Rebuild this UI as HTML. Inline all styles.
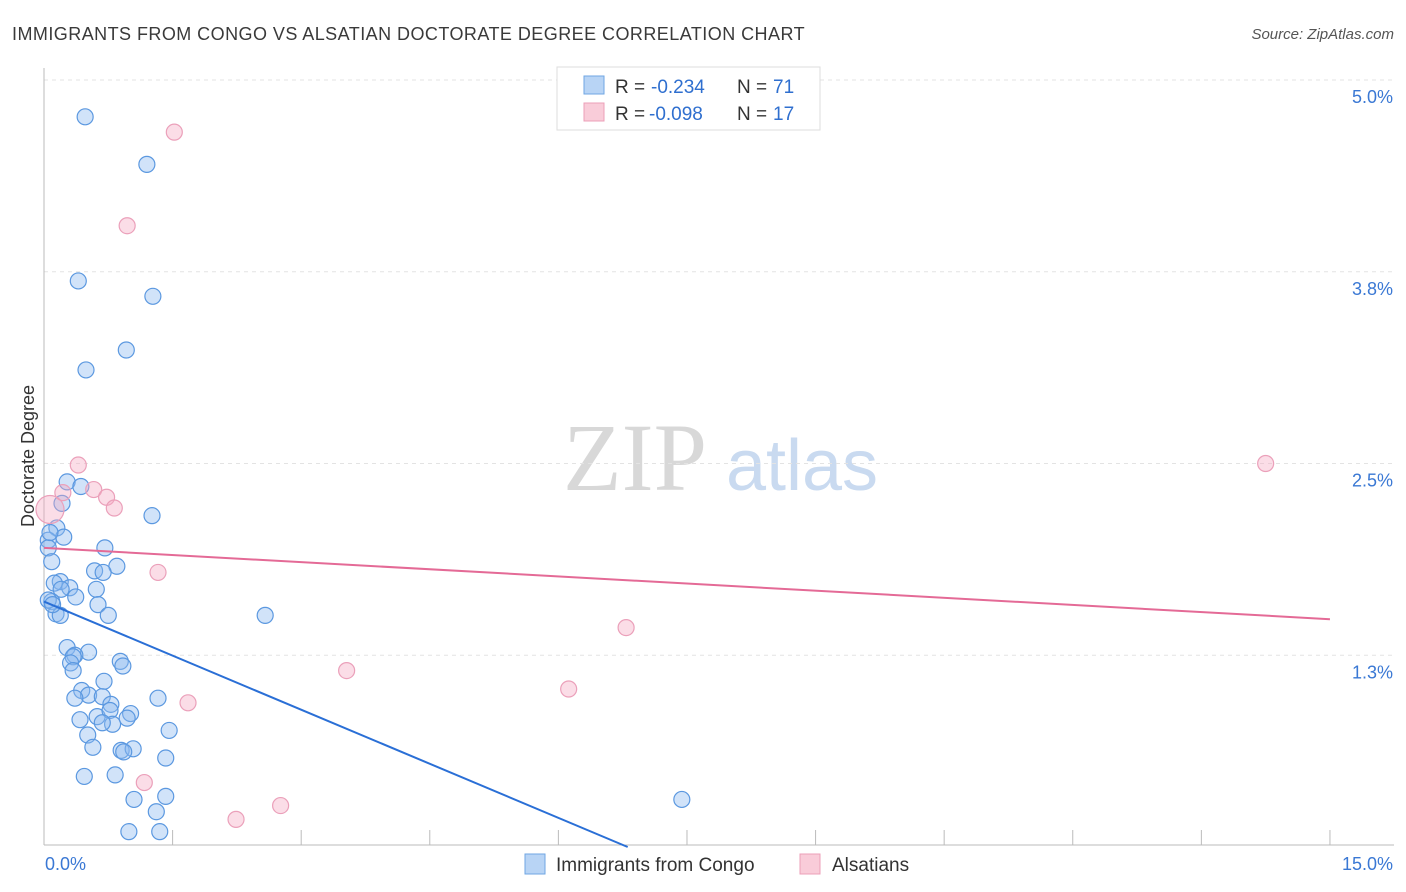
<!DOCTYPE html>
<html><head><meta charset="utf-8"><style>
body{margin:0;background:#fff;font-family:"Liberation Sans",sans-serif;}
svg{display:block}
</style></head><body>
<svg id="chart" width="1406" height="892" xmlns="http://www.w3.org/2000/svg">
<text x="12" y="40" font-size="18" fill="#3a3a3a" letter-spacing="0.45">IMMIGRANTS FROM CONGO VS ALSATIAN DOCTORATE DEGREE CORRELATION CHART</text>
<text x="1394" y="39" font-size="15" fill="#555" text-anchor="end" font-style="italic">Source: ZipAtlas.com</text>
<g>
<text x="635" y="490" font-size="96" font-family="Liberation Serif,serif" fill="#d8d8d8" text-anchor="middle">ZIP</text>
<text x="802" y="490" font-size="72" fill="#c9daf0" text-anchor="middle">atlas</text>
</g>
<g id="grid"></g>
<g id="axes"></g>
<g id="marks"></g>
<text transform="translate(34,456) rotate(-90)" font-size="18" fill="#333" text-anchor="middle">Doctorate Degree</text>
<g>
<rect x="557" y="67" width="263" height="63" fill="#fff" stroke="#ddd"/>
<rect x="584" y="76" width="20" height="18" fill="#b8d4f5" stroke="#6fa6e3"/>
<rect x="584" y="103" width="20" height="18" fill="#f9ccd9" stroke="#ec9fb8"/>
<text x="615" y="93" font-size="19" fill="#333">R =</text><text x="651" y="93" font-size="19" fill="#2f6fcf">-0.234</text>
<text x="737" y="93" font-size="19" fill="#333">N =</text><text x="773" y="93" font-size="19" fill="#2f6fcf">71</text>
<text x="615" y="120" font-size="19" fill="#333">R =</text><text x="649" y="120" font-size="19" fill="#2f6fcf">-0.098</text>
<text x="737" y="120" font-size="19" fill="#333">N =</text><text x="773" y="120" font-size="19" fill="#2f6fcf">17</text>
</g>
<g>
<rect x="525" y="854" width="20" height="20" fill="#b8d4f5" stroke="#6fa6e3"/>
<text x="556" y="871" font-size="19" fill="#333">Immigrants from Congo</text>
<rect x="800" y="854" width="20" height="20" fill="#f9ccd9" stroke="#ec9fb8"/>
<text x="832" y="871" font-size="19" fill="#333">Alsatians</text>
</g>
</svg>
<script>
const blueX=[0.48,1.20,0.40,1.27,0.96,0.49,0.27,0.43,0.21,1.26,0.15,0.23,0.05,0.05,0.71,0.09,0.85,0.59,0.69,0.19,0.12,0.30,0.20,0.61,0.37,0.09,0.63,0.14,0.19,0.75,2.58,0.27,0.52,0.36,0.89,0.34,0.92,0.31,0.34,0.70,0.44,0.52,0.68,0.36,1.33,0.78,0.62,0.42,0.77,1.01,0.97,0.80,0.68,1.46,0.51,0.57,0.90,1.04,0.93,1.42,0.83,0.47,1.42,1.05,7.44,1.31,0.99,1.35,0.05,0.10,0.07];
const blueY=[4.76,4.45,3.69,3.59,3.24,3.11,2.38,2.35,2.24,2.16,2.08,2.02,2.00,1.95,1.95,1.86,1.83,1.80,1.79,1.73,1.72,1.69,1.68,1.68,1.63,1.60,1.58,1.52,1.51,1.51,1.51,1.30,1.27,1.25,1.21,1.24,1.18,1.20,1.15,1.08,1.02,0.99,0.98,0.97,0.97,0.93,0.85,0.83,0.89,0.87,0.84,0.80,0.81,0.76,0.73,0.65,0.63,0.64,0.62,0.58,0.47,0.46,0.33,0.31,0.31,0.23,0.10,0.10,1.61,1.58,2.05];
const pinkX=[1.52,0.97,0.40,0.22,0.58,0.73,0.82,1.33,6.79,3.53,6.12,1.68,1.17,2.76,2.24,14.25,0.07];
const pinkY=[4.66,4.05,2.49,2.31,2.33,2.28,2.21,1.79,1.43,1.15,1.03,0.94,0.42,0.27,0.18,2.50,2.20];
const pinkR=[8,8,8,8,8,8,8,8,8,8,8,8,8,8,8,8,14];
const trendBlue=[1.60,-0.235];
const trendPink=[1.95,-0.031];
const yTicks=[5.0,3.75,2.5,1.25];
const yTickLabels=["5.0%","3.8%","2.5%","1.3%"];
const xTicks=[0,1.5,3,4.5,6,7.5,9,10.5,12,13.5,15];
const xLabels=[[0,"0.0%"],[15,"15.0%"]];

const NS="http://www.w3.org/2000/svg";
const X=v=>44+v*85.73;
const Y=v=>80+(5-v)*153.4;
function mk(tag,attrs,parent){const e=document.createElementNS(NS,tag);for(const k in attrs)e.setAttribute(k,attrs[k]);parent.appendChild(e);return e;}
const grid=document.getElementById('grid'),axes=document.getElementById('axes'),marks=document.getElementById('marks');
yTicks.forEach((t,i)=>{
 const l=mk('line',{x1:44,x2:1394,y1:Y(t),y2:Y(t),stroke:'#e3e3e3','stroke-dasharray':'4,4'},grid);
 
 
 const tx=mk('text',{x:1393,y:Y(t)+23,'font-size':18,fill:'#3a78d4','text-anchor':'end'},axes);
 tx.textContent=yTickLabels[i];
 
 
});
const ax=mk('line',{x1:44,x2:1394,y1:845,y2:845,stroke:'#bbb'},axes);


const ay=mk('line',{x1:44,x2:44,y1:68,y2:845,stroke:'#bbb'},axes);


xTicks.forEach(t=>{
 const l=mk('line',{x1:X(t),x2:X(t),y1:830,y2:845,stroke:'#bbb'},axes);
 
 
});
xLabels.forEach(([v,s],i)=>{
 const tx=mk('text',{x:i?1393:45,y:870,'font-size':18,fill:'#3a78d4','text-anchor':i?'end':'start'},axes);
 tx.textContent=s;
 
 
});
blueX.forEach((v,i)=>{
 const c=mk('circle',{cx:X(v),cy:Y(blueY[i]),r:8,fill:'rgba(140,185,240,0.4)',stroke:'#5b98e0','stroke-width':1.2},marks);
 
 
});
pinkX.forEach((v,i)=>{
 const c=mk('circle',{cx:X(v),cy:Y(pinkY[i]),r:pinkR[i],fill:'rgba(245,170,195,0.4)',stroke:'#eba0ba','stroke-width':1.2},marks);
 
 
});
const bEnd=-trendBlue[0]/trendBlue[1];
const tb=mk('line',{x1:X(0),y1:Y(trendBlue[0]),x2:X(bEnd),y2:Y(0),stroke:'#2a6fd6','stroke-width':2},marks);


const tp=mk('line',{x1:X(0),y1:Y(trendPink[0]),x2:X(15),y2:Y(trendPink[0]+trendPink[1]*15),stroke:'#e46a96','stroke-width':2},marks);


</script>
</body></html>
